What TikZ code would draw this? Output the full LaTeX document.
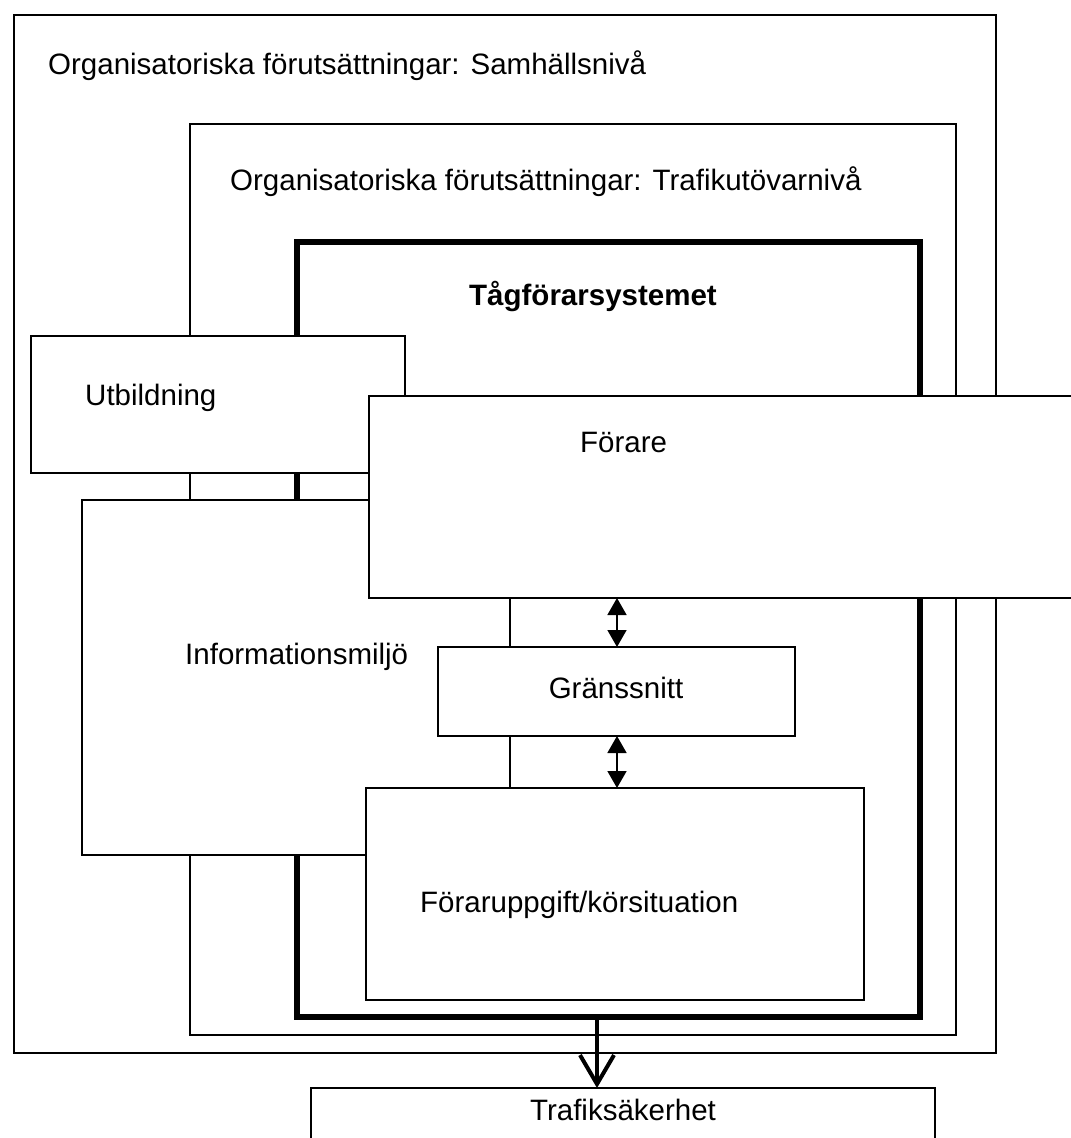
\documentclass[tikz,border=0pt]{standalone}
\usepackage{fontspec}
\setmainfont{Liberation Sans}
\usetikzlibrary{arrows.meta}
\begin{document}
\begin{tikzpicture}[x=1pt,y=-1pt,
  box/.style={draw, line width=1.6pt, fill=white, inner sep=0pt, outer sep=0pt, anchor=north west},
  thickbox/.style={box, line width=5.5pt},
  lbl/.style={inner sep=0pt, font=\fontsize{29.5}{35}\selectfont},
  boldlbl/.style={inner sep=0pt, font=\fontsize{29.5}{35}\selectfont\bfseries},
  dblarrow/.style={line width=1.6pt, {Triangle[length=17pt,width=19pt]}-{Triangle[length=17pt,width=19pt]}},
  bigarrow/.style={line width=4pt, -{Straight Barb[length=29pt,width=34pt]}}]
\path[use as bounding box, fill=white] (0,0) rectangle (1071,1138);
% nested frames
\node[box, minimum width=982pt, minimum height=1038pt] (samh) at (14,15) {};
\node[box, minimum width=766pt, minimum height=911pt] (trafikut) at (190,124) {};
\node[thickbox, minimum width=623pt, minimum height=775pt] (tfs) at (297,242) {};
% inner boxes
\node[box, minimum width=374pt, minimum height=137pt] (utb) at (31,336) {};
\node[box, minimum width=428pt, minimum height=355pt] (info) at (82,500) {};
\node[box, minimum width=710pt, minimum height=202pt] (forare) at (369,396) {};
\node[box, minimum width=357pt, minimum height=89pt] (grans) at (438,647) {};
\node[box, minimum width=498pt, minimum height=212pt] (forupp) at (366,788) {};
\node[box, minimum width=624pt, minimum height=80pt] (trafsak) at (311,1088) {};
% labels
\node[lbl, anchor=mid west] (t1) at (48,72) {Organisatoriska förutsättningar: Samhällsnivå};
\node[lbl, anchor=mid west] (t2) at (230,188) {Organisatoriska förutsättningar: Trafikutövarnivå};
\node[boldlbl, anchor=mid] (t3) at (593,303) {Tågförarsystemet};
\node[lbl, anchor=mid west] (t4) at (85,403) {Utbildning};
\node[lbl, anchor=mid west] (t5) at (580,450) {Förare};
\node[lbl, anchor=mid west] (t6) at (185,662) {Informationsmiljö};
\node[lbl, anchor=mid] (t7) at (616,696) {Gränssnitt};
\node[lbl, anchor=mid west] (t8) at (420,910) {Föraruppgift/körsituation};
\node[lbl, anchor=mid] (t9) at (623,1118) {Trafiksäkerhet};
% connectors
\coordinate (xa) at (597,0);
\coordinate (xb) at (617,0);
\draw[bigarrow] (tfs.south -| xa) -- (trafsak.north -| xa);
\draw[dblarrow] (forare.south -| xb) -- (grans.north -| xb);
\draw[dblarrow] (grans.south -| xb) -- (forupp.north -| xb);
\end{tikzpicture}
\end{document}
